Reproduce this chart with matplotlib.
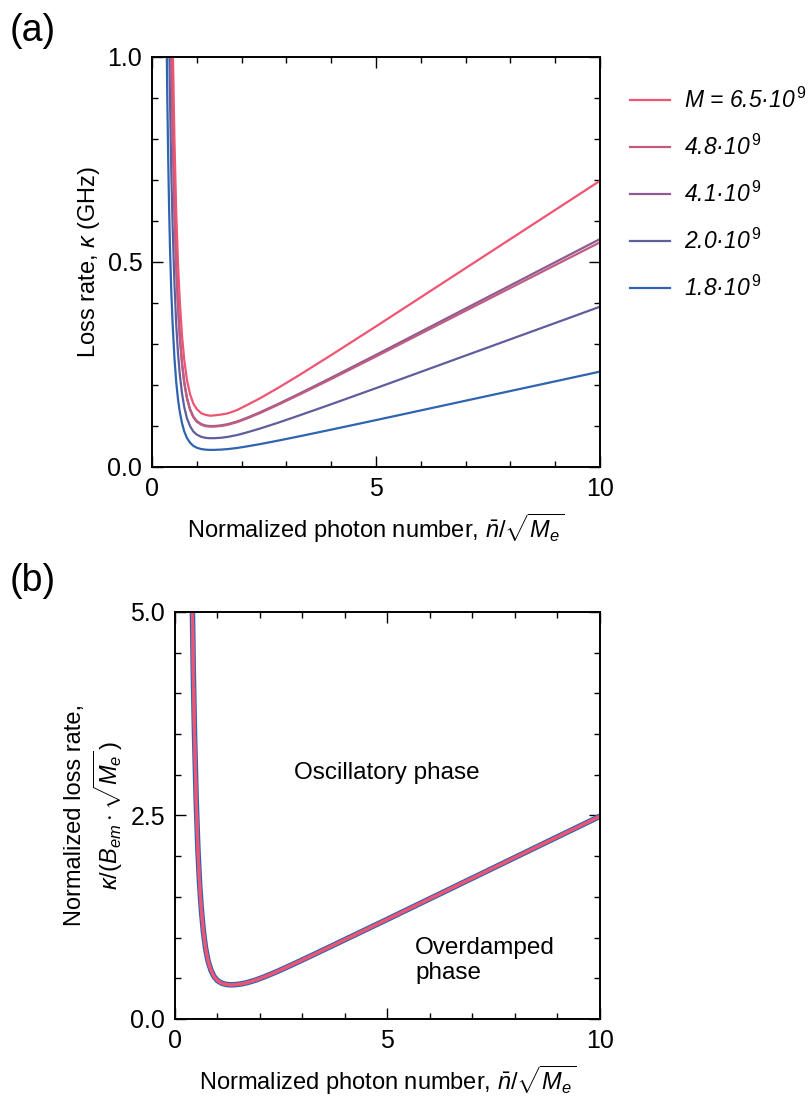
import numpy as np
import matplotlib
matplotlib.use("Agg")
import matplotlib.pyplot as plt

plt.rcParams['font.family'] = ['Liberation Sans', 'DejaVu Sans']
plt.rcParams['mathtext.fontset'] = 'custom'
plt.rcParams['mathtext.rm'] = 'Liberation Sans'
plt.rcParams['mathtext.it'] = 'Liberation Sans:italic'
plt.rcParams['mathtext.bf'] = 'Liberation Sans:bold'

# --- data ---
# normalized photon number n/sqrt(Me)
photon = [0.26, 0.28, 0.30, 0.32, 0.34, 0.36, 0.38, 0.40, 0.43, 0.46, 0.50, 0.54, 0.58,
          0.62, 0.67, 0.72, 0.78, 0.85, 0.92, 1.0, 1.1, 1.2, 1.3, 1.4, 1.55, 1.7, 1.9,
          2.1, 2.4, 2.8, 3.3, 4.0, 5.0, 6.0, 7.0, 8.0, 9.0, 10.0]

# panel (a): loss rate kappa (GHz), one list per M
kappa_65 = [6.41, 5.04, 4.06, 3.31, 2.71, 2.27, 1.91, 1.613, 1.282, 1.044, 0.799, 0.620, 0.495,
            0.403, 0.319, 0.260, 0.212, 0.177, 0.155, 0.141, 0.131, 0.127, 0.125, 0.126, 0.128,
            0.131, 0.139, 0.150, 0.167, 0.192, 0.225, 0.273, 0.343, 0.414, 0.485, 0.556, 0.627, 0.698]
kappa_48 = [5.04, 3.96, 3.18, 2.60, 2.13, 1.78, 1.50, 1.267, 1.007, 0.820, 0.628, 0.487, 0.389,
            0.316, 0.250, 0.204, 0.166, 0.139, 0.122, 0.110, 0.103, 0.0995, 0.0984, 0.0986, 0.1001,
            0.1032, 0.1094, 0.1175, 0.131, 0.151, 0.177, 0.2146, 0.2696, 0.3253, 0.381, 0.4367, 0.4924, 0.548]
kappa_41 = [5.11, 4.02, 3.23, 2.64, 2.16, 1.81, 1.52, 1.285, 1.022, 0.832, 0.637, 0.494, 0.394,
            0.321, 0.254, 0.207, 0.169, 0.141, 0.123, 0.112, 0.1045, 0.1009, 0.0998, 0.1000, 0.1016,
            0.1047, 0.1110, 0.1192, 0.1329, 0.153, 0.1795, 0.2177, 0.2735, 0.330, 0.3865, 0.443, 0.4995, 0.556]
kappa_20 = [3.59, 2.82, 2.27, 1.854, 1.520, 1.270, 1.069, 0.904, 0.718, 0.585, 0.448, 0.347, 0.277,
            0.2255, 0.1787, 0.1454, 0.1185, 0.0994, 0.0868, 0.0788, 0.0735, 0.0710, 0.0702, 0.0703, 0.0714,
            0.0736, 0.0780, 0.0838, 0.0934, 0.1075, 0.1262, 0.1531, 0.1923, 0.2320, 0.2718, 0.3115, 0.3512, 0.391]
kappa_18 = [2.137, 1.679, 1.351, 1.103, 0.904, 0.756, 0.636, 0.538, 0.427, 0.348, 0.266, 0.2067, 0.1649,
            0.1341, 0.1063, 0.0865, 0.0705, 0.0591, 0.0517, 0.0469, 0.0437, 0.0422, 0.0417, 0.0418, 0.0425,
            0.0438, 0.0464, 0.0499, 0.0556, 0.0640, 0.0751, 0.0911, 0.1144, 0.1380, 0.1617, 0.1853, 0.2089, 0.2326]

# panel (b): normalized loss rate (all M collapse onto this curve)
norm_rate = [21.5, 16.9, 13.6, 11.1, 9.1, 7.6, 6.4, 5.41, 4.3, 3.5, 2.68, 2.08, 1.66,
             1.35, 1.07, 0.87, 0.71, 0.595, 0.52, 0.472, 0.440, 0.425, 0.420, 0.421, 0.430, 0.447, 0.478,
             0.517, 0.582, 0.677, 0.800, 0.975, 1.225, 1.478, 1.731, 1.984, 2.237, 2.49]

labels = ['M = 6.5\u00b710$^{\\,\\mathit{9}}$', '4.8\u00b710$^{\\,\\mathit{9}}$',
          '4.1\u00b710$^{\\,\\mathit{9}}$', '2.0\u00b710$^{\\,\\mathit{9}}$',
          '1.8\u00b710$^{\\,\\mathit{9}}$']
colors = ['#EE5572', '#C05C80', '#8E5A92', '#5E5E9E', '#2E64B0']
kappas = [kappa_65, kappa_48, kappa_41, kappa_20, kappa_18]


def style_axes(ax, ymax, ymajor, yminor):
    ax.set_xlim(0, 10)
    ax.set_ylim(0, ymax)
    ax.set_xticks([0, 5, 10])
    ax.set_xticks(np.arange(0, 10.01, 1), minor=True)
    ax.set_yticks(ymajor)
    ax.set_yticks(yminor, minor=True)
    ax.tick_params(which='both', direction='in', top=True, right=True,
                   width=1.0, labelsize=18, pad=7)
    ax.tick_params(which='major', length=8)
    ax.tick_params(which='minor', length=4)
    for s in ax.spines.values():
        s.set_linewidth(1.4)


fig = plt.figure(figsize=(8.1, 11.04), dpi=100)

# ---- panel (a) ----
ax1 = fig.add_axes([0.1877, 0.5770, 0.5531, 0.3714])
handles = []
for k, c, lab in zip(kappas[::-1], colors[::-1], labels[::-1]):
    h, = ax1.plot(photon, k, color=c, lw=1.6, label=lab)
    handles.append(h)
style_axes(ax1, 1.0, [0, 0.5, 1.0], np.arange(0, 1.001, 0.1))
ax1.set_yticklabels(['0.0', '0.5', '1.0'])
ax1.set_xlabel(r'Normalized photon number, $\bar{n}/\sqrt{M_e}$', fontsize=17, labelpad=8)
ax1.set_ylabel(r'Loss rate, $\kappa$ (GHz)', fontsize=17, labelpad=4)
ax1.legend(handles[::-1], labels, loc='upper left', bbox_to_anchor=(1.067, 0.925),
           frameon=False, prop={'size': 16.5, 'style': 'italic'}, borderpad=0,
           borderaxespad=0, handlelength=1.75, handletextpad=0.6, labelspacing=0.95)

# ---- panel (b) ----
ax2 = fig.add_axes([0.2160, 0.0770, 0.5247, 0.3687])
ax2.plot(photon, norm_rate, color=colors[4], lw=4.0)
for c in colors[3::-1]:
    ax2.plot(photon, norm_rate, color=c, lw=2.2)
style_axes(ax2, 5.0, [0, 2.5, 5.0], np.arange(0, 5.001, 0.5))
ax2.set_yticklabels(['0.0', '2.5', '5.0'])
ax2.set_xlabel(r'Normalized photon number, $\bar{n}/\sqrt{M_e}$', fontsize=17, labelpad=8)
ax2.set_ylabel('Normalized loss rate,\n' + r'$\kappa/(B_{em}\cdot\sqrt{M_e}\,)$',
               fontsize=17, labelpad=4)
ax2.text(4.99, 3.02, 'Oscillatory phase', fontsize=17.5, ha='center', va='center')
ax2.text(5.65, 0.72, 'Overdamped\nphase', fontsize=17.5, ha='left', va='center',
         linespacing=1.15)

fig.text(0.012, 0.988, '(a)', fontsize=27, va='top')
fig.text(0.012, 0.490, '(b)', fontsize=27, va='top')

fig.savefig('out.png', dpi=100)
